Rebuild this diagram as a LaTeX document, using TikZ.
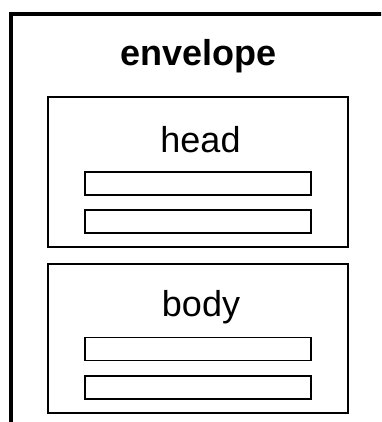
\documentclass[tikz,border=0pt]{standalone}
\usepackage{fontspec}
\setmainfont{Liberation Sans}
\begin{document}
\begin{tikzpicture}[x=1pt,y=-1pt,
  outerbox/.style={draw, line width=3.5pt, inner sep=0pt, outer sep=0pt, minimum width=380pt, minimum height=420pt},
  partbox/.style={draw, line width=1.8pt, inner sep=0pt, outer sep=0pt, minimum width=300pt},
  fieldbar/.style={draw, line width=1.8pt, inner sep=0pt, outer sep=0pt, minimum width=226pt, minimum height=23pt},
  lbl/.style={inner sep=0pt, anchor=base, font=\fontsize{36}{43}\selectfont}]
\clip (0,0) rectangle (381,422);
\fill[white] (0,0) rectangle (381,422);
\node[outerbox] (envelope) at (201,224) {};
\node[lbl, font=\fontsize{36}{43}\selectfont\bfseries] (envlabel) at (198.5,65.5) {envelope};
\node[partbox, minimum height=150pt] (head) at (198,172) {};
\node[lbl] (headlabel) at (200.5,152) {head};
\node[fieldbar] (h1) at (198,183.5) {};
\node[fieldbar] (h2) at (198,221.5) {};
\node[partbox, minimum height=149pt] (body) at (198,338.5) {};
\node[lbl] (bodylabel) at (201,316.5) {body};
\node[fieldbar] (b1) at (198,349) {};
\node[fieldbar] (b2) at (198,387.5) {};
\end{tikzpicture}
\end{document}
